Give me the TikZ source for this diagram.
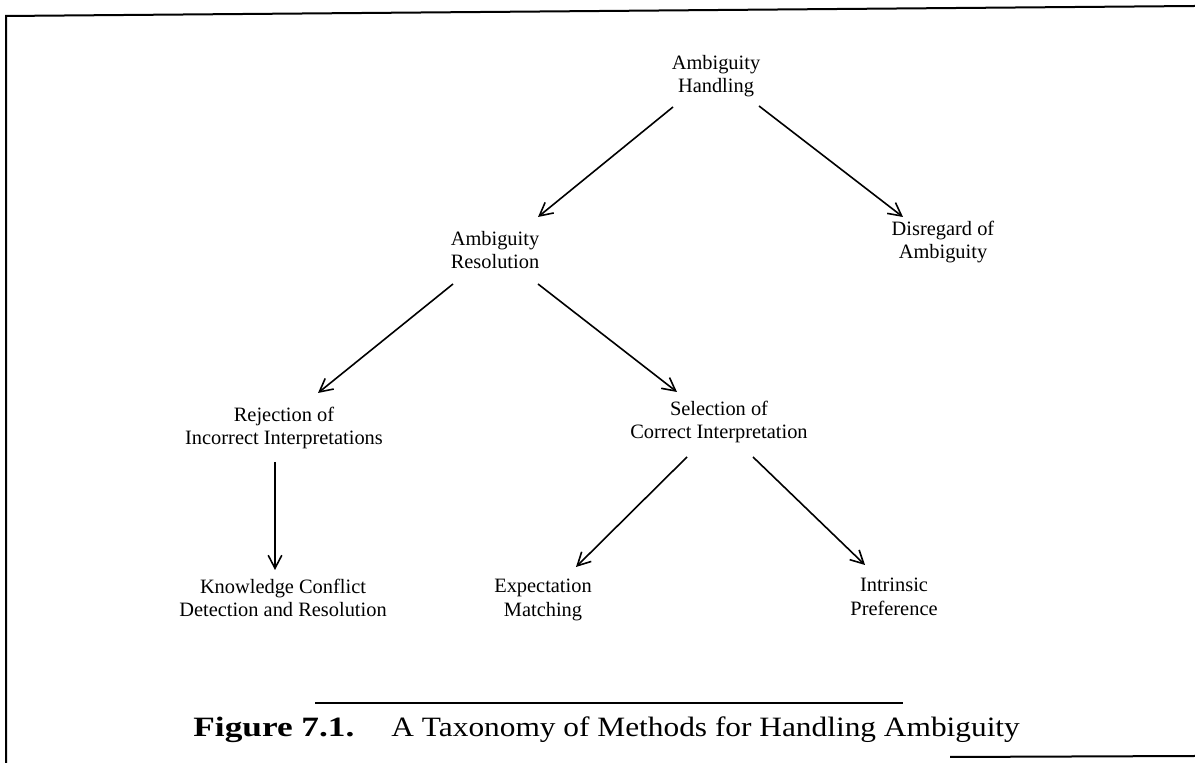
\documentclass[tikz,border=0pt]{standalone}
\usepackage{fontspec}
\setmainfont{Liberation Serif}
\usetikzlibrary{arrows.meta,calc}
\begin{document}
\begin{tikzpicture}[x=0.5pt,y=-0.5pt,
  label/.style={align=center,inner sep=0pt,font=\fontsize{10.2}{11.8}\selectfont},
  link/.style={line width=0.8pt,-{Straight Barb[length=6.5pt,width=6.8pt,line width=0.8pt]}},
  rule/.style={line width=1pt}]
\useasboundingbox (0,0) rectangle (1195,763);

% frame
\draw[rule] (6,763) -- (6,16) -- (1195,6);
\draw[rule] (950,757) -- (1195,756);

% taxonomy nodes
\node[label] (hand)  at (716,76)  {Ambiguity\\Handling};
\node[label] (res)   at (495,250) {Ambiguity\\Resolution};
\node[label] (dis)   at (943,242) {Disregard of\\Ambiguity};
\node[label] (rej)   at (284,428) {Rejection of\\Incorrect Interpretations};
\node[label] (sel)   at (719,422) {Selection of\\Correct Interpretation};
\node[label] (know)  at (283,598) {Knowledge Conflict\\Detection and Resolution};
\node[label] (exp)   at (543,600) {Expectation\\Matching};
\node[label] (intr)  at (894,597) {Intrinsic\\Preference};

% connectors
\draw[link] ($(hand)+(-43,31)$) -- ($(res)+(43,-33)$);
\draw[link] ($(hand)+(43,30)$)  -- ($(dis)+(-40,-25)$);
\draw[link] ($(res)+(-42,34)$)  -- ($(rej)+(34,-35)$);
\draw[link] ($(res)+(43,34)$)   -- ($(sel)+(-42,-30)$);
\draw[link] ($(rej)+(-9,34)$)   -- ($(know)+(-8,-28)$);
\draw[link] ($(sel)+(-32,35)$)  -- ($(exp)+(33,-33)$);
\draw[link] ($(sel)+(34,35)$)   -- ($(intr)+(-29,-32)$);

% caption
\draw[rule] (315,703) -- (903,703);
\node[anchor=base west,inner sep=0pt,font=\fontsize{14}{16}\selectfont] (cap) at (193,737)
  {\scalebox{1.26}[1]{\textbf{Figure 7.1.}}\hspace{18.5pt}\scalebox{1.12}[1]{A Taxonomy of Methods for Handling Ambiguity}};
\end{tikzpicture}
\end{document}
